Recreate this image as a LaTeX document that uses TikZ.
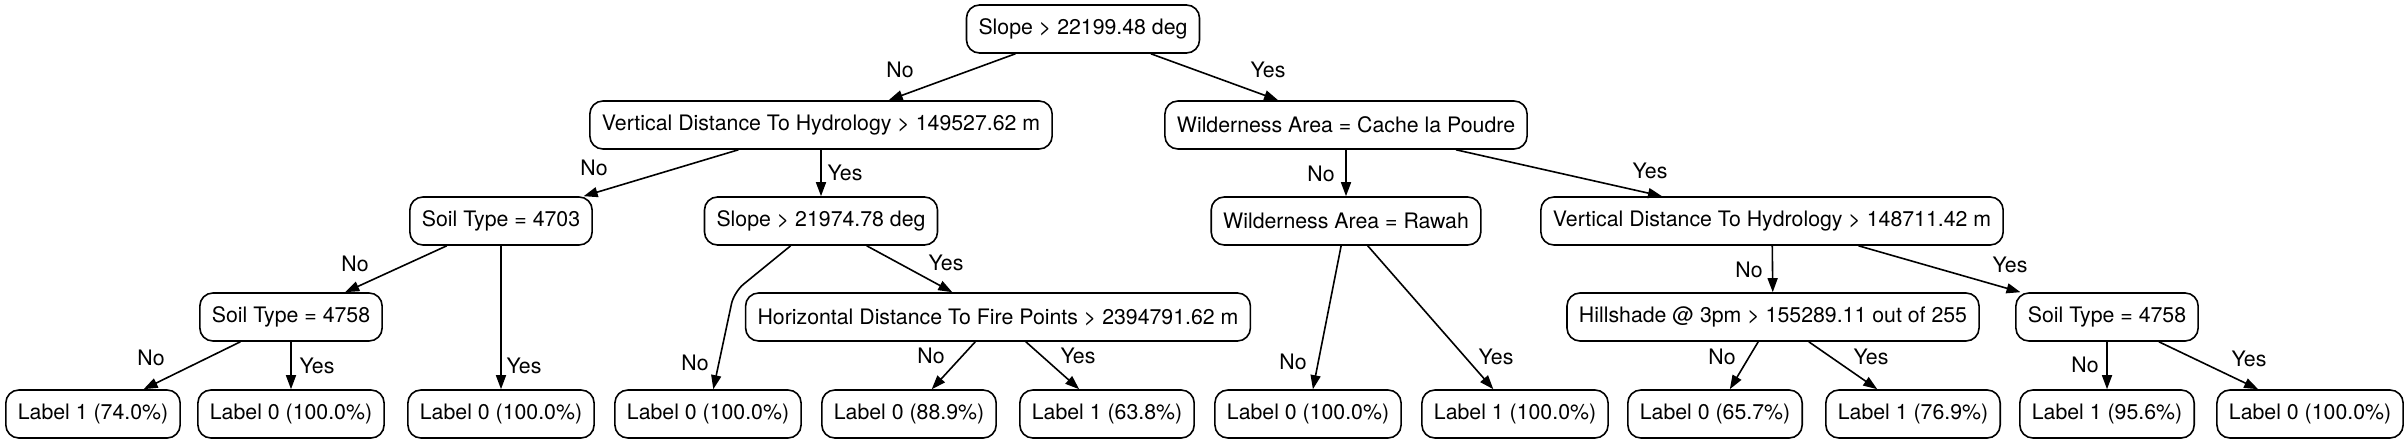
\documentclass[tikz,border=0pt]{standalone}
\usepackage{fontspec}
\setmainfont{TeX Gyre Heros}
\usetikzlibrary{arrows.meta}
\begin{document}
\begin{tikzpicture}[x=0.5pt,y=-0.5pt,
  box/.style={draw, line width=0.8pt, rounded corners=6.5pt, minimum height=24pt, inner xsep=6pt, inner ysep=0pt, font=\fontsize{10.65}{12}\selectfont},
  edge/.style={draw, line width=0.8pt, -{Triangle[length=7pt,width=5pt]}},
  elab/.style={inner sep=0pt, font=\fontsize{10.65}{12}\selectfont}]
\useasboundingbox (0,0) rectangle (2407,443);
% level 0
\node[box] (root) at (1083,29) {Slope > 22199.48 deg};
% level 1
\node[box] (vdhL) at (821,125) {Vertical Distance To Hydrology > 149527.62 m};
\node[box] (cache) at (1346,125) {Wilderness Area = Cache la Poudre};
% level 2
\node[box] (soilA) at (501,221) {Soil Type = 4703};
\node[box] (slopeB) at (821,221) {Slope > 21974.78 deg};
\node[box] (rawah) at (1346,221) {Wilderness Area = Rawah};
\node[box] (vdhR) at (1772,221) {Vertical Distance To Hydrology > 148711.42 m};
% level 3
\node[box] (soilC) at (291,317) {Soil Type = 4758};
\node[box] (horiz) at (998,317) {Horizontal Distance To Fire Points > 2394791.62 m};
\node[box] (hill) at (1773,317) {Hillshade @ 3pm > 155289.11 out of 255};
\node[box] (soilD) at (2107,317) {Soil Type = 4758};
% level 4
\node[box] (l1) at (93,414) {Label 1 (74.0\%)};
\node[box] (l2) at (291,414) {Label 0 (100.0\%)};
\node[box] (l3) at (501,414) {Label 0 (100.0\%)};
\node[box] (l4) at (708,414) {Label 0 (100.0\%)};
\node[box] (l5) at (909,414) {Label 0 (88.9\%)};
\node[box] (l6) at (1107,414) {Label 1 (63.8\%)};
\node[box] (l7) at (1308,414) {Label 0 (100.0\%)};
\node[box] (l8) at (1515,414) {Label 1 (100.0\%)};
\node[box] (l9) at (1715,414) {Label 0 (65.7\%)};
\node[box] (l10) at (1913,414) {Label 1 (76.9\%)};
\node[box] (l11) at (2107,414) {Label 1 (95.6\%)};
\node[box] (l12) at (2310,414) {Label 0 (100.0\%)};
\coordinate (bend) at (734,292);
% edges
\path[edge] (root) -- (vdhL);
\path[edge] (root) -- (cache);
\path[edge] (vdhL) -- (soilA);
\path[edge] (vdhL) -- (slopeB);
\path[edge] (cache) -- (rawah);
\path[edge] (cache) -- (vdhR);
\path[edge] (soilA) -- (soilC);
\path[edge] (soilA) -- (l3);
\path[edge, rounded corners=6pt] (slopeB) -- (bend) -- (l4);
\path[edge] (slopeB) -- (horiz);
\path[edge] (rawah) -- (l7);
\path[edge] (rawah) -- (l8);
\path[edge] (vdhR) -- (hill);
\path[edge] (vdhR) -- (soilD);
\path[edge] (soilC) -- (l1);
\path[edge] (soilC) -- (l2);
\path[edge] (horiz) -- (l5);
\path[edge] (horiz) -- (l6);
\path[edge] (hill) -- (l9);
\path[edge] (hill) -- (l10);
\path[edge] (soilD) -- (l11);
\path[edge] (soilD) -- (l12);
% edge labels
\node[elab] (e1) at (900,70) {No};
\node[elab] (e2) at (1268,70) {Yes};
\node[elab] (e3) at (594,168) {No};
\node[elab] (e4) at (845,173) {Yes};
\node[elab] (e5) at (1321,174) {No};
\node[elab] (e6) at (1650,171) {Yes};
\node[elab] (e7) at (355,264) {No};
\node[elab] (e8) at (524,366) {Yes};
\node[elab] (e9) at (695,363) {No};
\node[elab] (e10) at (946,263) {Yes};
\node[elab] (e11) at (151,358) {No};
\node[elab] (e12) at (317,366) {Yes};
\node[elab] (e13) at (931,356) {No};
\node[elab] (e14) at (1078,356) {Yes};
\node[elab] (e15) at (1293,362) {No};
\node[elab] (e16) at (1496,357) {Yes};
\node[elab] (e17) at (1749,270) {No};
\node[elab] (e18) at (2010,265) {Yes};
\node[elab] (e19) at (1722,357) {No};
\node[elab] (e20) at (1871,357) {Yes};
\node[elab] (e21) at (2085,365) {No};
\node[elab] (e22) at (2249,359) {Yes};
\end{tikzpicture}
\end{document}
